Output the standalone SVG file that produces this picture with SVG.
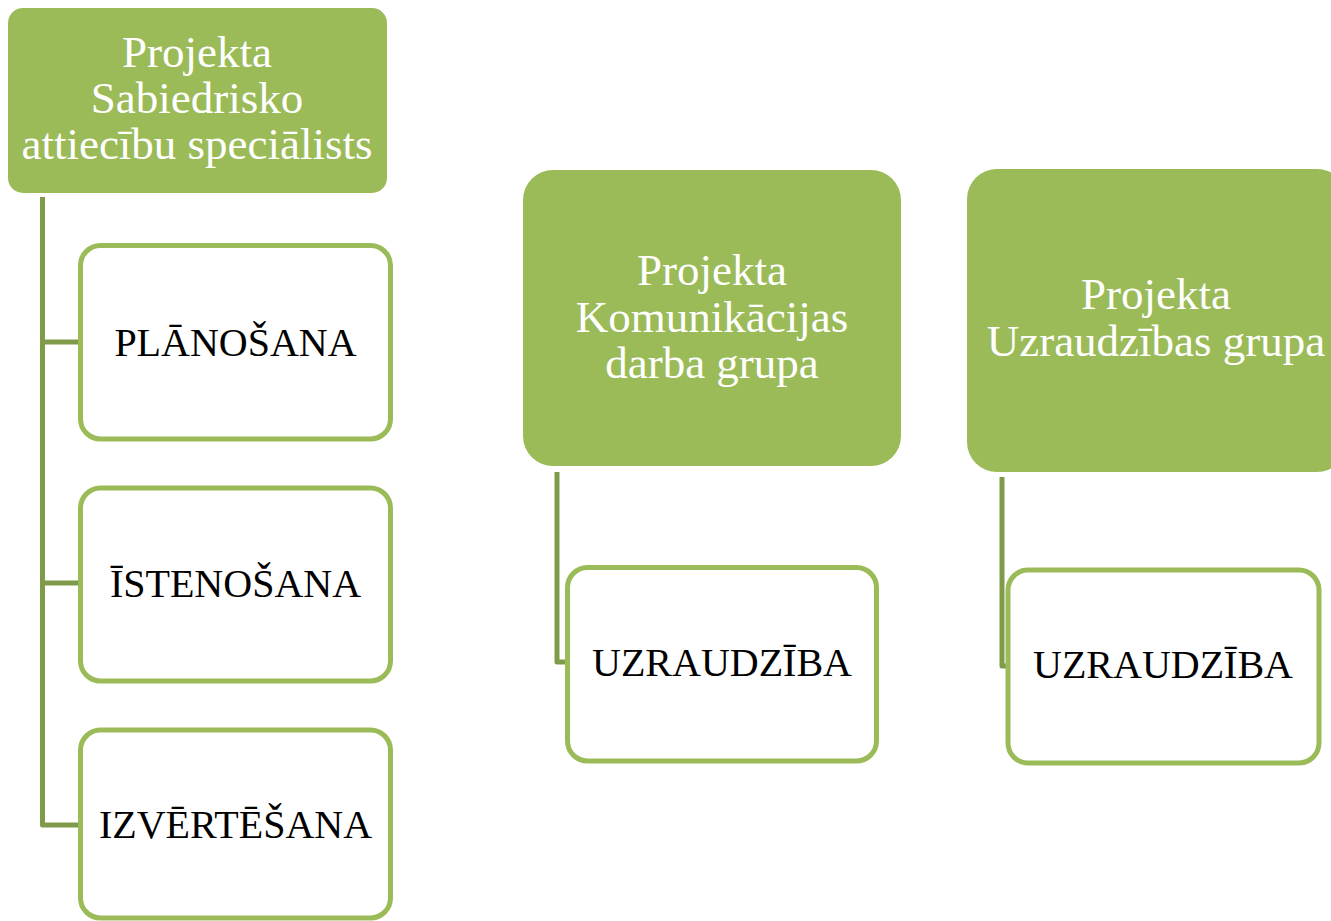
<svg xmlns="http://www.w3.org/2000/svg" width="1331" height="921" viewBox="0 0 1331 921">
<style>
.head{fill:#9bbb59}
.child{fill:#ffffff;stroke:#9bbb59;stroke-width:5}
.conn{fill:none;stroke:#7f9b49;stroke-width:5;stroke-linejoin:round}
.ht{font-family:"Liberation Serif","Times New Roman",serif;font-size:45px;fill:#ffffff;text-anchor:middle}
.ct{font-family:"Liberation Serif","Times New Roman",serif;font-size:40px;fill:#000000;text-anchor:middle}
</style>
<rect width="1331" height="921" fill="#ffffff"/>
<g id="connectors">
<path class="conn" d="M42.5 197 V825 H80"/>
<path class="conn" d="M42.5 342 H80"/>
<path class="conn" d="M42.5 583 H80"/>
<path class="conn" d="M557 472 V662 H567"/>
<path class="conn" d="M1002 477 V666 H1008"/>
</g>
<g id="n1">
<rect class="head" x="8" y="8" width="379" height="185" rx="15"/>
<text class="ht" x="197" y="67">Projekta</text>
<text class="ht" x="197" y="113">Sabiedrisko</text>
<text class="ht" x="197" y="159">attiecību speciālists</text>
</g>
<g id="n1a">
<rect class="child" x="80.5" y="245.5" width="310" height="193.5" rx="20"/>
<text class="ct" x="235.5" y="356">PLĀNOŠANA</text>
</g>
<g id="n1b">
<rect class="child" x="80.5" y="488" width="310" height="193" rx="20"/>
<text class="ct" x="235.5" y="597">ĪSTENOŠANA</text>
</g>
<g id="n1c">
<rect class="child" x="80.5" y="730" width="310" height="188" rx="20"/>
<text class="ct" x="235.5" y="838">IZVĒRTĒŠANA</text>
</g>
<g id="n2">
<rect class="head" x="523" y="170" width="378" height="296" rx="30"/>
<text class="ht" x="712" y="285">Projekta</text>
<text class="ht" x="712" y="332">Komunikācijas</text>
<text class="ht" x="712" y="378">darba grupa</text>
</g>
<g id="n2a">
<rect class="child" x="567.5" y="567.5" width="309" height="193.5" rx="20"/>
<text class="ct" x="722" y="676">UZRAUDZĪBA</text>
</g>
<g id="n3">
<rect class="head" x="967" y="169" width="380" height="303" rx="30"/>
<text class="ht" x="1156" y="309">Projekta</text>
<text class="ht" x="1156" y="356">Uzraudzības grupa</text>
</g>
<g id="n3a">
<rect class="child" x="1008" y="570" width="311" height="193" rx="20"/>
<text class="ct" x="1163" y="678">UZRAUDZĪBA</text>
</g>
</svg>
